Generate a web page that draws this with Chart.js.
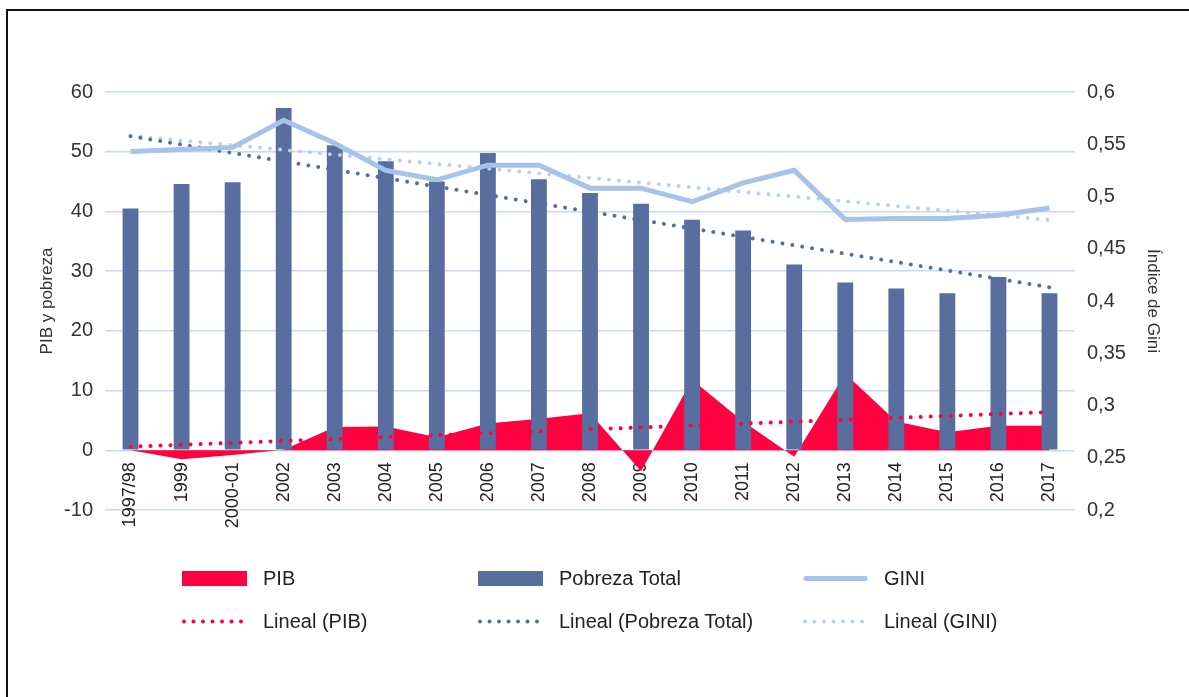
<!DOCTYPE html>
<html>
<head>
<meta charset="utf-8">
<script src="https://cdn.jsdelivr.net/npm/chart.js@4.4.1/dist/chart.umd.min.js"></script>
<style>
  html, body { margin: 0; padding: 0; background: #fff; width: 1189px; height: 697px; overflow: hidden; }
  #wrap { position: absolute; left: 0; top: 0; width: 1189px; height: 697px; }
  #frame { position: absolute; left: 6px; top: 9px; width: 1300px; height: 800px; border: 2px solid #111; box-sizing: border-box; }
  #legend { position: absolute; left: 0; top: 0; width: 1189px; height: 697px; font-family: "Liberation Sans", Arial, sans-serif; font-size: 20px; color: #222; }
  .item { position: absolute; display: flex; align-items: center; height: 24px; white-space: nowrap; }
  .sym { width: 65px; height: 24px; margin-right: 16px; }
</style>
</head>
<body>
<div id="wrap">
  <div id="frame"></div>
  <canvas id="c" width="1189" height="697"></canvas>
  <div id="legend"></div>
</div>
<script>
const categories = ['1997/98','1999','2000-01','2002','2003','2004','2005','2006','2007','2008','2009','2010','2011','2012','2013','2014','2015','2016','2017'];
const pib = [0, -1.5, -0.8, 0.1, 3.9, 4.0, 2.2, 4.5, 5.3, 6.2, -3.5, 11.8, 4.8, -1.1, 12.8, 4.8, 3.0, 4.1, 4.1];
const pobreza = [40.5, 44.6, 44.9, 57.3, 51.1, 48.4, 45.0, 49.8, 45.4, 43.1, 41.3, 38.6, 36.8, 31.1, 28.1, 27.1, 26.3, 29.0, 26.3];
const gini = [0.543, 0.545, 0.547, 0.573, 0.551, 0.525, 0.516, 0.530, 0.530, 0.508, 0.508, 0.495, 0.513, 0.525, 0.478, 0.479, 0.479, 0.482, 0.489];
// trend lines: values read at first and last category
const pibTrend = [0.6, null, null, null, null, null, null, null, null, null, null, null, null, null, null, null, null, null, 6.4];
const pobrezaTrend = [52.6, null, null, null, null, null, null, null, null, null, null, null, null, null, null, null, null, null, 27.3];
const giniTrend = [0.558, null, null, null, null, null, null, null, null, null, null, null, null, null, null, null, null, null, 0.4775];
const leftTicks = [-10, 0, 10, 20, 30, 40, 50, 60];
const rightTicks = ['0,2','0,25','0,3','0,35','0,4','0,45','0,5','0,55','0,6'];

const RED = '#FF0040', DARK = '#576E9E', LIGHT = '#A6C3EA', LIGHT2 = '#B9D0EF', GRID = '#C8DAF3';
const FONT = '"Liberation Sans", Arial, sans-serif';

const ds = [
  { type: 'line', label: 'PIB', data: pib, yAxisID: 'y', backgroundColor: RED, borderColor: RED, borderWidth: 0, fill: 'origin', pointRadius: 0, tension: 0, order: 10, legendKind: 'box' },
  { type: 'bar', label: 'Pobreza Total', data: pobreza, yAxisID: 'y', backgroundColor: DARK, barPercentage: 0.31, categoryPercentage: 1, order: 5, legendKind: 'box' },
  { type: 'line', label: 'GINI', data: gini, yAxisID: 'y2', borderColor: LIGHT, borderWidth: 5, fill: false, pointRadius: 0, tension: 0, order: 1, legendKind: 'line' },
  { type: 'line', label: 'Lineal (PIB)', data: pibTrend, yAxisID: 'y', borderColor: RED, borderWidth: 4, borderDash: [0.01, 10], borderCapStyle: 'round', spanGaps: true, fill: false, pointRadius: 0, order: 2, legendKind: 'dots' },
  { type: 'line', label: 'Lineal (Pobreza Total)', data: pobrezaTrend, yAxisID: 'y', borderColor: DARK, borderWidth: 4, borderDash: [0.01, 10], borderCapStyle: 'round', spanGaps: true, fill: false, pointRadius: 0, order: 2, legendKind: 'dots' },
  { type: 'line', label: 'Lineal (GINI)', data: giniTrend, yAxisID: 'y2', borderColor: LIGHT2, borderWidth: 4, borderDash: [0.01, 10], borderCapStyle: 'round', spanGaps: true, fill: false, pointRadius: 0, order: 2, legendKind: 'dots' }
];

const chart = new Chart(document.getElementById('c'), {
  type: 'bar',
  data: { labels: categories, datasets: ds },
  options: {
    responsive: false,
    animation: false,
    events: [],
    layout: { padding: { top: 92, bottom: 187, left: 0, right: 0 } },
    plugins: { legend: { display: false }, tooltip: { enabled: false } },
    scales: {
      x: {
        position: { y: 0 },
        offset: true,
        grid: { display: false, drawTicks: false },
        border: { display: false },
        ticks: { minRotation: 90, maxRotation: 90, padding: 12, autoSkip: false, color: '#222', font: { family: FONT, size: 18 } }
      },
      y: {
        position: 'left',
        min: -10, max: 60,
        afterBuildTicks: s => { s.ticks = leftTicks.map(v => ({ value: v })); },
        afterFit: s => { s.width = 105; },
        grid: { color: GRID, lineWidth: 1.5, drawTicks: false },
        border: { display: false },
        ticks: { padding: 12, color: '#333', font: { family: FONT, size: 20 } },
        title: { display: true, text: 'PIB y pobreza', color: '#333', font: { family: FONT, size: 17 }, padding: { top: 37, bottom: 0 } }
      },
      y2: {
        position: 'right',
        min: 0.2, max: 0.6,
        afterBuildTicks: s => { s.ticks = rightTicks.map(t => ({ value: parseFloat(t.replace(',', '.')) })); },
        afterFit: s => { s.width = 114; },
        grid: { display: false, drawTicks: false },
        border: { display: false },
        ticks: { padding: 12, color: '#333', font: { family: FONT, size: 20 },
          callback: (v, i) => rightTicks[i] },
        title: { display: true, text: 'Índice de Gini', color: '#333', font: { family: FONT, size: 17 }, padding: { top: 26, bottom: 0 } }
      }
    }
  }
});

// HTML legend built from the chart's datasets
const legend = document.getElementById('legend');
const cols = [182, 478, 803];
const rows = [566, 609];
chart.data.datasets.forEach((d, i) => {
  const col = i % 3, row = Math.floor(i / 3);
  const it = document.createElement('div');
  it.className = 'item';
  it.style.left = cols[col] + 'px';
  it.style.top = rows[row] + 'px';
  const sym = document.createElement('canvas');
  sym.className = 'sym'; sym.width = 65; sym.height = 24;
  const g = sym.getContext('2d');
  const color = d.legendKind === 'box' ? d.backgroundColor : d.borderColor;
  if (d.legendKind === 'box') {
    g.fillStyle = color; g.fillRect(0, 5, 65, 15);
  } else if (d.legendKind === 'line') {
    g.strokeStyle = color; g.lineWidth = 5; g.lineCap = 'round';
    g.beginPath(); g.moveTo(3, 12.5); g.lineTo(62, 12.5); g.stroke();
  } else {
    g.fillStyle = color;
    for (let x = 2; x < 65; x += 9.5) { g.beginPath(); g.arc(x, 12.5, 2, 0, Math.PI * 2); g.fill(); }
  }
  it.appendChild(sym);
  const t = document.createElement('span');
  t.textContent = d.label;
  it.appendChild(t);
  legend.appendChild(it);
});
</script>
</body>
</html>
